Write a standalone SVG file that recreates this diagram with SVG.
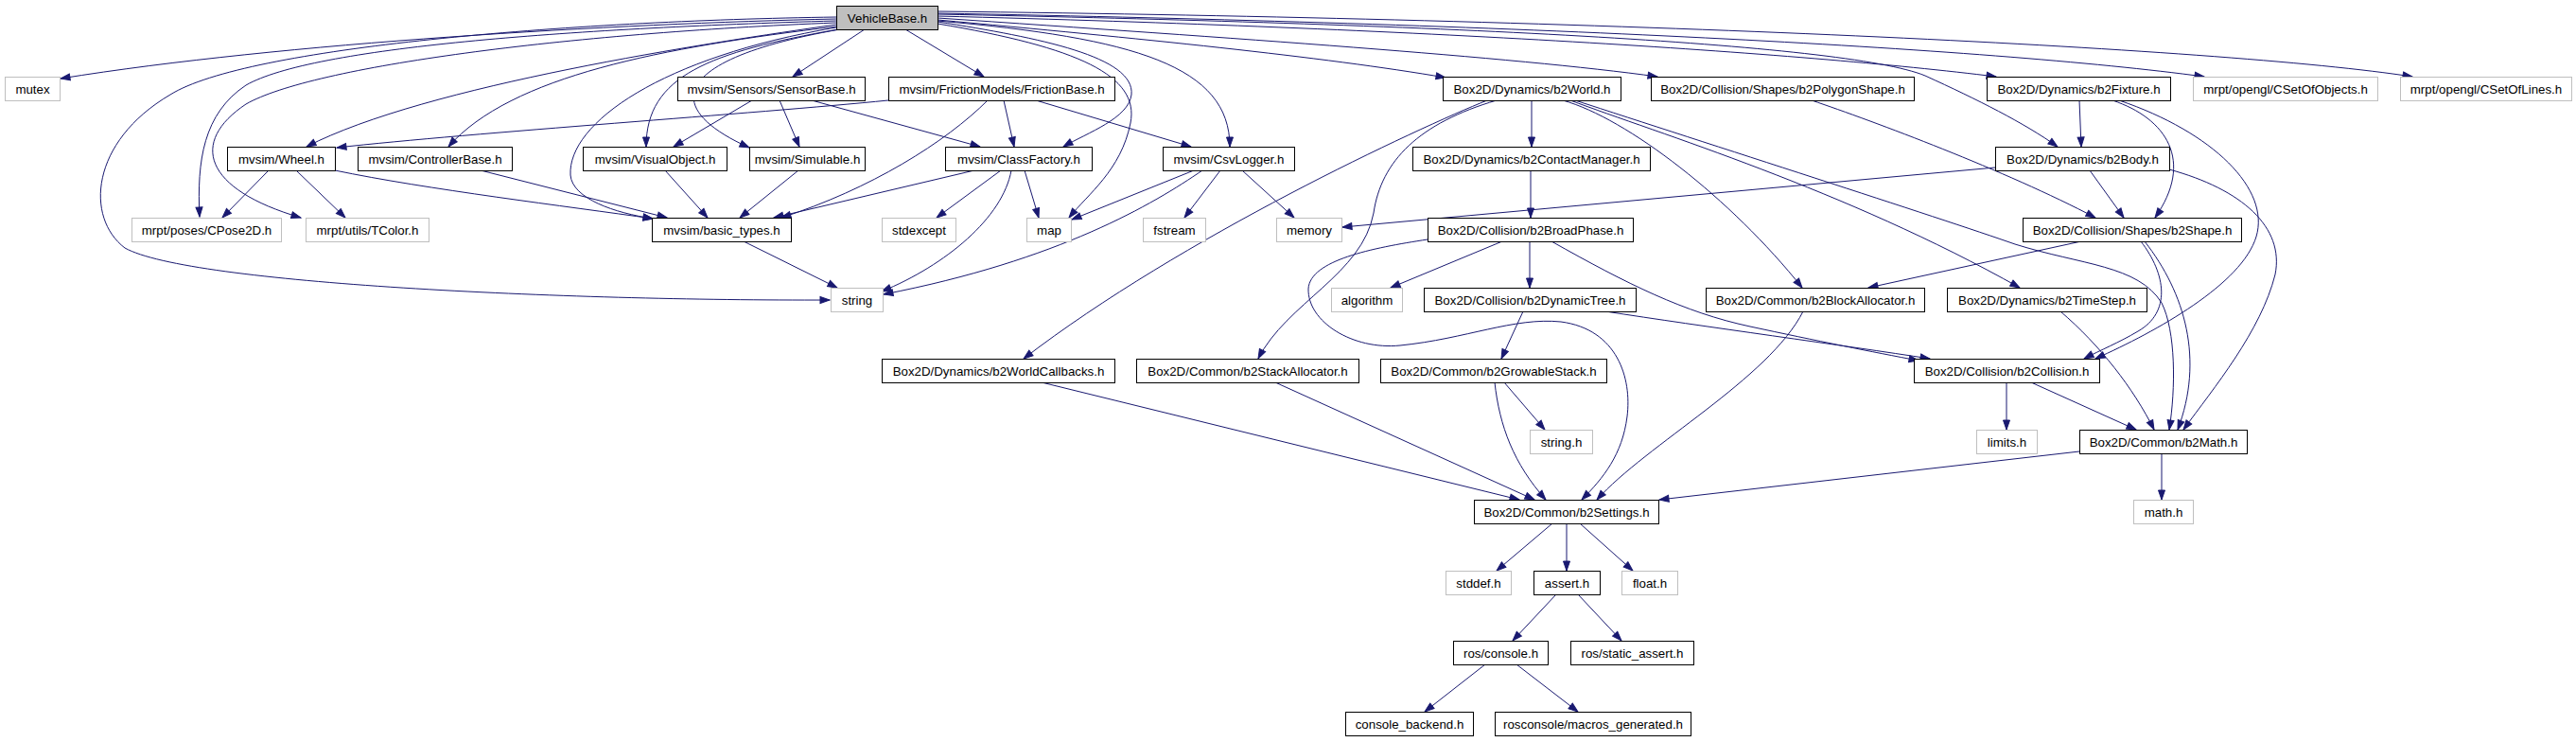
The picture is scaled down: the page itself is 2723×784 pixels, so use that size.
<svg xmlns="http://www.w3.org/2000/svg" width="2723" height="784" viewBox="0 0 2723 784">
<defs>
<marker id="arr" markerUnits="userSpaceOnUse" markerWidth="12" markerHeight="10" refX="10" refY="4" orient="auto" overflow="visible">
<path d="M0,0.5 L10,4 L0,7.5 z" fill="#191970" stroke="#191970" stroke-width="1"/>
</marker>
<style>
.n rect{fill:#ffffff;stroke:#000000;stroke-width:1}
.g rect{fill:#ffffff;stroke:#bfbfbf;stroke-width:1}
.root rect{fill:#bfbfbf;stroke:#000000;stroke-width:1}
text{font-family:"Liberation Sans",Arial,Helvetica,sans-serif;font-size:13.3px;fill:#000000;text-anchor:middle}
#edges path{fill:none;stroke:#191970;stroke-width:1;marker-end:url(#arr)}
</style>
</defs>
<rect width="2723" height="784" fill="#ffffff"/>
<g id="edges">
<path d="M884,20 C650,25 300,45 64,83"/>
<path d="M884,18 C600,22 260,50 180,100 C95,150 90,230 132,262 C200,300 600,318 877,317"/>
<path d="M884,22 C600,30 330,50 260,90 C215,120 208,170 211,229"/>
<path d="M884,24 C600,35 330,70 260,110 C200,150 215,200 318,230"/>
<path d="M884,26 C750,45 450,90 324,155"/>
<path d="M884,28 C700,50 540,80 474,155"/>
<path d="M884,29 C700,60 600,130 603,185 C605,210 650,225 690,231"/>
<path d="M886,31 C750,55 683,80 683,155"/>
<path d="M888,31 C720,60 690,110 792,156"/>
<path d="M914,31 L838,81"/>
<path d="M957,31 L1040,81"/>
<path d="M991,23 C1100,40 1200,60 1196,100 C1193,125 1150,140 1124,155"/>
<path d="M991,25 C1140,50 1205,80 1195,130 C1185,180 1150,205 1130,230"/>
<path d="M991,22 C1200,40 1300,70 1300,155"/>
<path d="M991,21 C1200,40 1400,60 1528,82"/>
<path d="M991,19 C1300,40 1600,60 1752,81"/>
<path d="M991,17 C1500,30 1900,55 2110,81"/>
<path d="M991,14 C1600,25 2100,50 2330,81"/>
<path d="M991,12 C1700,20 2350,50 2550,81"/>
<path d="M991,15 C1500,25 1950,45 2035,80 C2090,105 2140,130 2175,155"/>
<path d="M795,106 L712,155"/>
<path d="M824,106 L845,155"/>
<path d="M858,106 L1036,155"/>
<path d="M939,106 C800,120 500,140 356,156"/>
<path d="M1061,106 L1072,155"/>
<path d="M1095,106 L1259,155"/>
<path d="M1044,106 C1000,150 920,200 826,230"/>
<path d="M284,180 L235,230"/>
<path d="M313,180 L365,230"/>
<path d="M354,180 C450,200 600,218 690,231"/>
<path d="M508,180 L705,230"/>
<path d="M703,180 L748,230"/>
<path d="M844,180 L782,230"/>
<path d="M1030,180 L818,230"/>
<path d="M1058,180 L990,230"/>
<path d="M1083,180 L1098,230"/>
<path d="M1069,180 C1060,230 1000,280 932,308"/>
<path d="M1262,180 L1133,232"/>
<path d="M1271,180 C1220,215 1120,275 934,311"/>
<path d="M1290,180 L1252,230"/>
<path d="M1313,180 L1368,230"/>
<path d="M786,255 L885,304"/>
<path d="M2109,177 L1419,240"/>
<path d="M2209,180 L2245,230"/>
<path d="M2293,179 C2370,200 2415,240 2405,290 C2390,350 2340,410 2308,454"/>
<path d="M1619,106 L1619,155"/>
<path d="M1572,106 C1500,135 1250,250 1082,379"/>
<path d="M1582,106 C1500,130 1460,170 1452,225 C1440,290 1360,320 1330,379"/>
<path d="M1652,106 C1720,125 1830,210 1905,304"/>
<path d="M1660,106 C1750,140 1950,200 2135,304"/>
<path d="M1665,106 C1800,150 2050,230 2130,258 C2200,280 2260,280 2285,320 C2300,350 2300,410 2293,454"/>
<path d="M1618,180 L1618,230"/>
<path d="M1588,255 L1470,304"/>
<path d="M1617,255 L1617,304"/>
<path d="M1640,255 C1720,300 1780,330 1850,345 C1920,360 1980,372 2028,381"/>
<path d="M1509,253 C1450,262 1385,275 1383,305 C1382,340 1430,370 1480,365 C1550,358 1600,335 1650,340 C1710,348 1725,400 1720,440 C1715,480 1695,505 1672,528"/>
<path d="M1610,329 L1587,379"/>
<path d="M1697,329 C1800,345 1950,365 2040,379"/>
<path d="M1590,404 L1633,454"/>
<path d="M1580,404 C1585,450 1600,490 1634,528"/>
<path d="M1348,404 L1622,528"/>
<path d="M1101,404 L1606,528"/>
<path d="M1906,329 C1870,400 1740,470 1688,528"/>
<path d="M2198,477 L1754,528"/>
<path d="M2285,479 L2285,528"/>
<path d="M1641,553 L1582,603"/>
<path d="M1656,553 L1656,603"/>
<path d="M1670,553 L1726,603"/>
<path d="M1645,628 L1599,677"/>
<path d="M1668,628 L1714,677"/>
<path d="M1570,702 L1506,752"/>
<path d="M1603,702 L1668,752"/>
<path d="M2121,404 L2121,454"/>
<path d="M2147,404 L2258,454"/>
<path d="M2178,329 C2220,365 2255,410 2277,454"/>
<path d="M2200,255 L1975,304"/>
<path d="M2263,255 C2290,290 2295,330 2260,350 C2240,362 2220,370 2203,379"/>
<path d="M2267,255 C2310,310 2330,380 2302,454"/>
<path d="M2198,106 L2200,155"/>
<path d="M2233,106 C2290,125 2320,170 2278,230"/>
<path d="M2240,106 C2340,140 2400,200 2385,250 C2370,300 2280,350 2215,379"/>
<path d="M1915,106 C1980,128 2120,180 2215,230"/>
</g>
<g id="n0" class="root"><rect x="884.5" y="6.5" width="107" height="25"/><text x="938" y="24">VehicleBase.h</text></g>
<g id="n1" class="g"><rect x="5.5" y="81.5" width="58" height="25"/><text x="34.5" y="99">mutex</text></g>
<g id="n2" class="n"><rect x="716.5" y="81.5" width="198" height="25"/><text x="815.5" y="99">mvsim/Sensors/SensorBase.h</text></g>
<g id="n3" class="n"><rect x="939.5" y="81.5" width="239" height="25"/><text x="1059" y="99">mvsim/FrictionModels/FrictionBase.h</text></g>
<g id="n4" class="n"><rect x="1525.5" y="81.5" width="188" height="25"/><text x="1619.5" y="99">Box2D/Dynamics/b2World.h</text></g>
<g id="n5" class="n"><rect x="1745.5" y="81.5" width="278" height="25"/><text x="1884.5" y="99">Box2D/Collision/Shapes/b2PolygonShape.h</text></g>
<g id="n6" class="n"><rect x="2100.5" y="81.5" width="194" height="25"/><text x="2197.5" y="99">Box2D/Dynamics/b2Fixture.h</text></g>
<g id="n7" class="g"><rect x="2318.5" y="81.5" width="195" height="25"/><text x="2416" y="99">mrpt/opengl/CSetOfObjects.h</text></g>
<g id="n8" class="g"><rect x="2537.5" y="81.5" width="181" height="25"/><text x="2628" y="99">mrpt/opengl/CSetOfLines.h</text></g>
<g id="n9" class="n"><rect x="240.5" y="155.5" width="114" height="25"/><text x="297.5" y="173">mvsim/Wheel.h</text></g>
<g id="n10" class="n"><rect x="378.5" y="155.5" width="163" height="25"/><text x="460" y="173">mvsim/ControllerBase.h</text></g>
<g id="n11" class="n"><rect x="616.5" y="155.5" width="152" height="25"/><text x="692.5" y="173">mvsim/VisualObject.h</text></g>
<g id="n12" class="n"><rect x="792.5" y="155.5" width="122" height="25"/><text x="853.5" y="173">mvsim/Simulable.h</text></g>
<g id="n13" class="n"><rect x="999.5" y="155.5" width="155" height="25"/><text x="1077" y="173">mvsim/ClassFactory.h</text></g>
<g id="n14" class="n"><rect x="1229.5" y="155.5" width="139" height="25"/><text x="1299" y="173">mvsim/CsvLogger.h</text></g>
<g id="n15" class="n"><rect x="1493.5" y="155.5" width="251" height="25"/><text x="1619" y="173">Box2D/Dynamics/b2ContactManager.h</text></g>
<g id="n16" class="n"><rect x="2109.5" y="155.5" width="184" height="25"/><text x="2201.5" y="173">Box2D/Dynamics/b2Body.h</text></g>
<g id="n17" class="g"><rect x="139.5" y="230.5" width="158" height="25"/><text x="218.5" y="248">mrpt/poses/CPose2D.h</text></g>
<g id="n18" class="g"><rect x="323.5" y="230.5" width="130" height="25"/><text x="388.5" y="248">mrpt/utils/TColor.h</text></g>
<g id="n19" class="n"><rect x="689.5" y="230.5" width="147" height="25"/><text x="763" y="248">mvsim/basic_types.h</text></g>
<g id="n20" class="g"><rect x="932.5" y="230.5" width="78" height="25"/><text x="971.5" y="248">stdexcept</text></g>
<g id="n21" class="g"><rect x="1085.5" y="230.5" width="47" height="25"/><text x="1109" y="248">map</text></g>
<g id="n22" class="g"><rect x="1208.5" y="230.5" width="66" height="25"/><text x="1241.5" y="248">fstream</text></g>
<g id="n23" class="g"><rect x="1349.5" y="230.5" width="69" height="25"/><text x="1384" y="248">memory</text></g>
<g id="n24" class="n"><rect x="1509.5" y="230.5" width="217" height="25"/><text x="1618" y="248">Box2D/Collision/b2BroadPhase.h</text></g>
<g id="n25" class="n"><rect x="2138.5" y="230.5" width="231" height="25"/><text x="2254" y="248">Box2D/Collision/Shapes/b2Shape.h</text></g>
<g id="n26" class="g"><rect x="878.5" y="304.5" width="55" height="25"/><text x="906" y="322">string</text></g>
<g id="n27" class="g"><rect x="1407.5" y="304.5" width="75" height="25"/><text x="1445" y="322">algorithm</text></g>
<g id="n28" class="n"><rect x="1505.5" y="304.5" width="224" height="25"/><text x="1617.5" y="322">Box2D/Collision/b2DynamicTree.h</text></g>
<g id="n29" class="n"><rect x="1803.5" y="304.5" width="231" height="25"/><text x="1919" y="322">Box2D/Common/b2BlockAllocator.h</text></g>
<g id="n30" class="n"><rect x="2058.5" y="304.5" width="211" height="25"/><text x="2164" y="322">Box2D/Dynamics/b2TimeStep.h</text></g>
<g id="n31" class="n"><rect x="932.5" y="379.5" width="246" height="25"/><text x="1055.5" y="397">Box2D/Dynamics/b2WorldCallbacks.h</text></g>
<g id="n32" class="n"><rect x="1201.5" y="379.5" width="235" height="25"/><text x="1319" y="397">Box2D/Common/b2StackAllocator.h</text></g>
<g id="n33" class="n"><rect x="1459.5" y="379.5" width="239" height="25"/><text x="1579" y="397">Box2D/Common/b2GrowableStack.h</text></g>
<g id="n34" class="n"><rect x="2023.5" y="379.5" width="196" height="25"/><text x="2121.5" y="397">Box2D/Collision/b2Collision.h</text></g>
<g id="n35" class="g"><rect x="1617.5" y="454.5" width="66" height="25"/><text x="1650.5" y="472">string.h</text></g>
<g id="n36" class="g"><rect x="2089.5" y="454.5" width="64" height="25"/><text x="2121.5" y="472">limits.h</text></g>
<g id="n37" class="n"><rect x="2198.5" y="454.5" width="177" height="25"/><text x="2287" y="472">Box2D/Common/b2Math.h</text></g>
<g id="n38" class="n"><rect x="1558.5" y="528.5" width="195" height="25"/><text x="1656" y="546">Box2D/Common/b2Settings.h</text></g>
<g id="n39" class="g"><rect x="2255.5" y="528.5" width="63" height="25"/><text x="2287" y="546">math.h</text></g>
<g id="n40" class="g"><rect x="1528.5" y="603.5" width="69" height="25"/><text x="1563" y="621">stddef.h</text></g>
<g id="n41" class="n"><rect x="1621.5" y="603.5" width="70" height="25"/><text x="1656.5" y="621">assert.h</text></g>
<g id="n42" class="g"><rect x="1714.5" y="603.5" width="59" height="25"/><text x="1744" y="621">float.h</text></g>
<g id="n43" class="n"><rect x="1536.5" y="677.5" width="100" height="25"/><text x="1586.5" y="695">ros/console.h</text></g>
<g id="n44" class="n"><rect x="1660.5" y="677.5" width="130" height="25"/><text x="1725.5" y="695">ros/static_assert.h</text></g>
<g id="n45" class="n"><rect x="1422.5" y="752.5" width="135" height="25"/><text x="1490" y="770">console_backend.h</text></g>
<g id="n46" class="n"><rect x="1580.5" y="752.5" width="207" height="25"/><text x="1684" y="770">rosconsole/macros_generated.h</text></g>
</svg>
